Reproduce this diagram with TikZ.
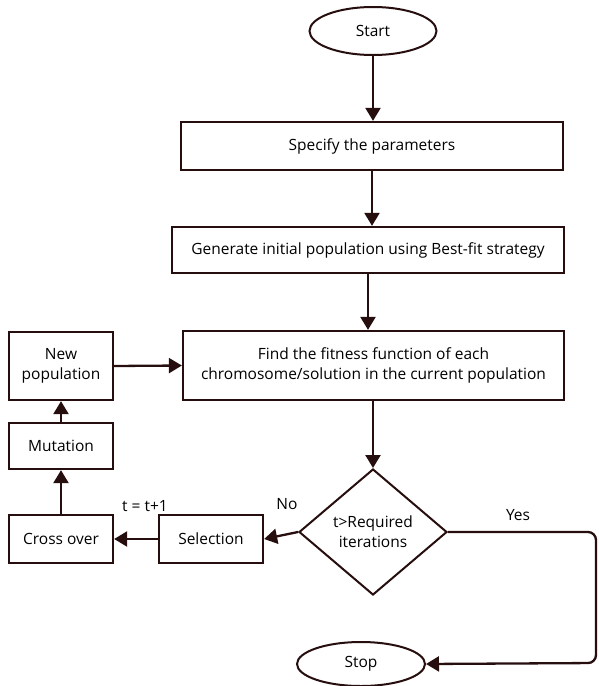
\documentclass[tikz,border=0pt]{standalone}
\usepackage{fontspec}
\setmainfont{Open Sans}
\usetikzlibrary{shapes.geometric,arrows.meta}
\definecolor{ink}{RGB}{38,14,14}
\begin{document}
\begin{tikzpicture}[x=1pt,y=-1pt,
  every node/.style={font=\fontsize{15.5}{20}\selectfont, text=black},
  box/.style={draw=ink, line width=2.3pt, rectangle, inner sep=0pt, align=center},
  term/.style={draw=ink, line width=2pt, ellipse, inner sep=0pt},
  dec/.style={draw=ink, line width=2pt, diamond, inner sep=0pt, align=center},
  conn/.style={draw=ink, line width=2.3pt, -{Triangle[length=13pt,width=15pt]}},
  lbl/.style={inner sep=0pt}]
\useasboundingbox (0,0) rectangle (599,686);
\node[term, minimum width=127pt, minimum height=48pt] (start) at (373,31) {Start};
\node[box, minimum width=382pt, minimum height=48pt] (spec) at (372,146) {Specify the parameters};
\node[box, minimum width=392pt, minimum height=46pt] (gen) at (368,250) {Generate initial population using Best-fit strategy};
\node[box, minimum width=381pt, minimum height=69pt] (fit) at (373.5,365.5) {Find the fitness function of each\\chromosome/solution in the current population};
\node[box, minimum width=104pt, minimum height=68pt] (newpop) at (61,366) {New\\population};
\node[box, minimum width=104pt, minimum height=46pt] (mut) at (61,446) {Mutation};
\node[box, minimum width=104pt, minimum height=48pt] (cross) at (61,539) {Cross over};
\node[box, minimum width=104pt, minimum height=48pt] (sel) at (211,539) {Selection};
\node[dec, minimum width=148pt, minimum height=126pt] (dia) at (373,532) {t>Required\\iterations};
\node[term, minimum width=128pt, minimum height=44pt] (stop) at (361,664) {Stop};
\node[lbl] (tt) at (145,506) {t = t+1};
\node[lbl] (no) at (287,504) {No};
\node[lbl] (yes) at (518,515) {Yes};
\coordinate (c1) at (596,532);
\coordinate (c2) at (596,663);
\draw[conn] (start) -- (start |- spec.north);
\draw[conn] (spec) -- (spec |- gen.north);
\draw[conn] (gen) -- (gen |- fit.north);
\draw[conn] (fit.south -| dia) -- (dia.north);
\draw[conn] (newpop.east) -- (fit.west);
\draw[conn] (mut) -- (newpop);
\draw[conn] (cross) -- (mut);
\draw[conn] (sel) -- (cross);
\draw[conn] (dia.west) -- (sel.east);
\draw[conn, rounded corners=8pt] (dia.east) -- (c1) -- (c2) -- (stop.east);
\end{tikzpicture}
\end{document}
